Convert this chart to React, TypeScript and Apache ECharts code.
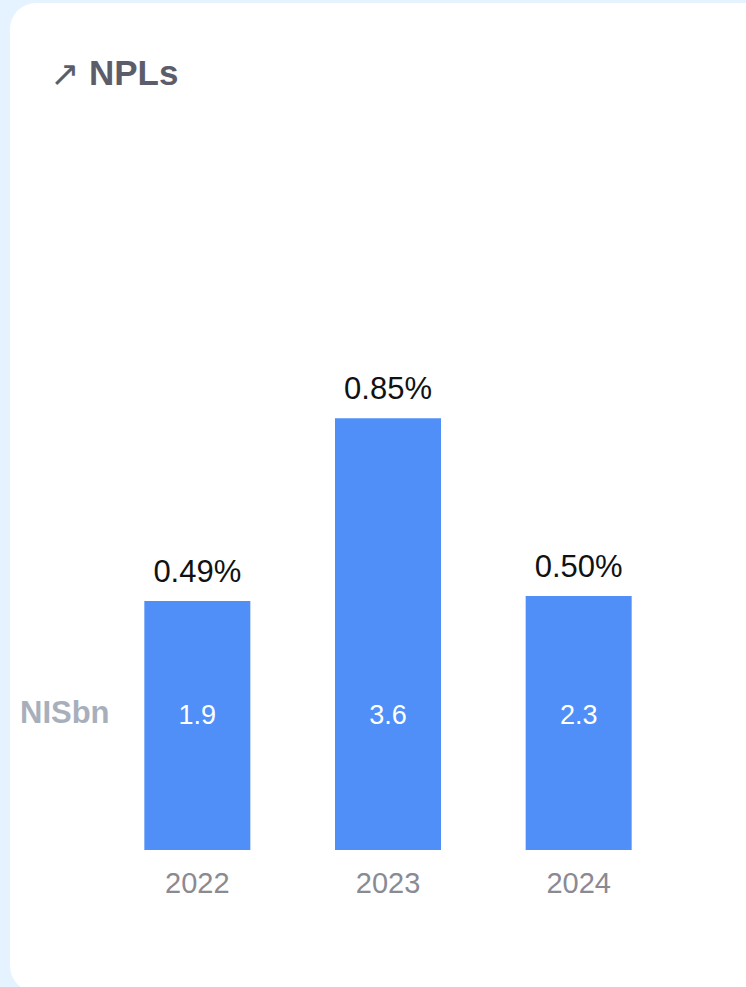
import React, { useEffect, useRef } from "react";
import * as echarts from "echarts";

const years = ["2022", "2023", "2024"];
const nplRatio = [0.49, 0.85, 0.5]; // % of loans
const nplAmount = [1.9, 3.6, 2.3]; // NIS bn
const amountLevel = 0.266; // vertical level (in % axis units) where NIS bn labels sit

const FONT = "'Liberation Sans', Arial, Helvetica, sans-serif";

export default function App() {
  const ref = useRef<HTMLDivElement>(null);
  useEffect(() => {
    if (!ref.current) return;
    const chart = echarts.init(ref.current, undefined, { renderer: "svg" });
    chart.setOption({
      animation: false,
      backgroundColor: "#e4f3ff",
      graphic: [
        {
          type: "rect",
          z: -10,
          shape: { x: 10, y: 3, width: 760, height: 989, r: 26 },
          style: { fill: "#ffffff" },
        },
        {
          type: "text",
          left: 50,
          top: 56,
          style: {
            text: "↗",
            fontSize: 35,
            fontFamily: "'DejaVu Sans', sans-serif",
            fill: "#5c5d6b",
          },
        },
        {
          type: "text",
          left: 89,
          top: 55,
          style: {
            text: "NPLs",
            fontSize: 35,
            fontWeight: "bold",
            fontFamily: FONT,
            fill: "#5c5d6b",
          },
        },
        {
          type: "text",
          left: 20,
          top: 697,
          style: {
            text: "NISbn",
            fontSize: 31,
            fontWeight: "bold",
            fontFamily: FONT,
            fill: "#a8afbc",
          },
        },
      ],
      grid: { left: 102, width: 572, top: 342, bottom: 137 },
      xAxis: {
        type: "category",
        data: years,
        axisLine: { show: false },
        axisTick: { show: false },
        axisLabel: { fontSize: 29, color: "#8a8a93", margin: 18, fontFamily: FONT },
      },
      yAxis: { type: "value", min: 0, max: 1, show: false, splitLine: { show: false } },
      series: [
        {
          type: "bar",
          data: nplRatio,
          barWidth: 106,
          itemStyle: { color: "#4f8ff7" },
          label: {
            show: true,
            position: "top",
            distance: 14,
            fontSize: 31,
            color: "#111111",
            fontFamily: FONT,
            formatter: (p: any) => p.value.toFixed(2) + "%",
          },
        },
        {
          type: "scatter",
          data: nplAmount.map((v, i) => [years[i], amountLevel]),
          symbolSize: 0,
          z: 5,
          itemStyle: { color: "#4f8ff7", opacity: 1 },
          label: {
            show: true,
            position: "inside",
            fontSize: 27,
            color: "#ffffff",
            textBorderWidth: 0,
            fontFamily: FONT,
            formatter: (p: any) => nplAmount[p.dataIndex].toFixed(1),
          },
        },
      ],
    });
    return () => chart.dispose();
  }, []);
  return (
    <div
      ref={ref}
      style={{ position: "fixed", left: 0, top: 0, width: 746, height: 987 }}
    />
  );
}
